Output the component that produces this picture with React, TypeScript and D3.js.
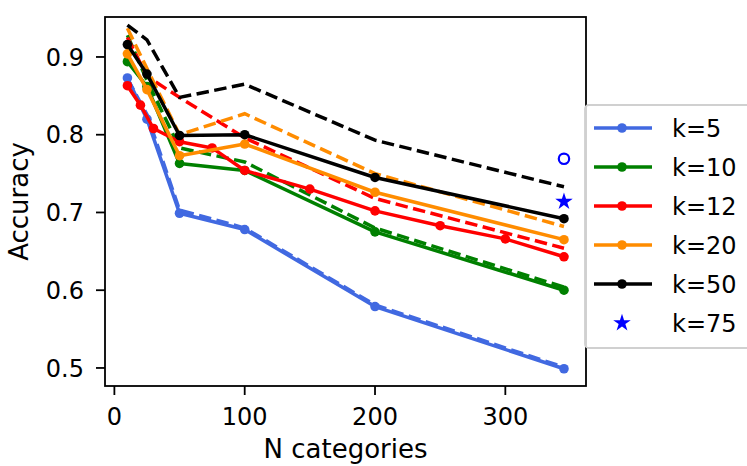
import { useEffect, useRef } from "react"
import * as d3 from "d3"

// x positions shared by most runs
const nCats = [10, 25, 50, 100, 200, 345]
const nCatsFine = [10, 20, 30, 50, 75, 100, 150, 200, 250, 300, 345]

const acc5 = [0.873, 0.82, 0.699, 0.678, 0.579, 0.499]
const acc10 = [0.894, 0.862, 0.763, 0.754, 0.675, 0.6]
const acc12 = [0.863, 0.838, 0.808, 0.791, 0.783, 0.754, 0.73, 0.702, 0.683, 0.666, 0.643]
const acc20 = [0.904, 0.858, 0.773, 0.788, 0.726, 0.665]
const acc50 = [0.916, 0.878, 0.799, 0.8, 0.745, 0.692]

// dashed reference curves
const ref5 = [0.872, 0.826, 0.703, 0.68, 0.581, 0.501]
const ref10 = [0.928, 0.87, 0.783, 0.765, 0.68, 0.604]
const ref12 = [0.925, 0.875, 0.848, 0.796, 0.718, 0.654]
const ref20 = [0.937, 0.885, 0.8, 0.827, 0.75, 0.682]
const ref50 = [0.941, 0.922, 0.848, 0.865, 0.793, 0.733]

const k75Star = 0.714
const k75Circle = 0.769
const k75X = 345

const legendLabels = ["k=5", "k=10", "k=12", "k=20", "k=50", "k=75"]
const colors = ["#4169e1", "#008000", "#ff0000", "#ff8c00", "#000000"]
const yTicks = [0.5, 0.6, 0.7, 0.8, 0.9]
const xTicks = [0, 100, 200, 300]

const App = () => {
    const ref = useRef<SVGSVGElement>(null)

    useEffect(() => {
        const svg = d3.select(ref.current)
        svg.selectAll("*").remove()
        const font = "DejaVu Sans"

        const left = 105, right = 586, top = 17, bottom = 386
        const x = d3.scaleLinear().domain([-7.2, 361.9]).range([left, right])
        const y = d3.scaleLinear().domain([0.4768, 0.9514]).range([bottom, top])

        const line = d3.line<[number, number]>()
            .x(d => x(d[0]))
            .y(d => y(d[1]))

        const solid = [
            { xs: nCats, ys: acc5, c: colors[0] },
            { xs: nCats, ys: acc10, c: colors[1] },
            { xs: nCatsFine, ys: acc12, c: colors[2] },
            { xs: nCats, ys: acc20, c: colors[3] },
            { xs: nCats, ys: acc50, c: colors[4] },
        ]
        const dashed = [ref5, ref10, ref12, ref20, ref50]

        const g = svg.append("g")

        solid.forEach((s, i) => {
            const pts = s.xs.map((v, j) => [v, s.ys[j]] as [number, number])
            g.append("path")
                .attr("d", line(pts))
                .attr("fill", "none")
                .attr("stroke", s.c)
                .attr("stroke-width", 3.5)
                .attr("stroke-linejoin", "round")
            g.selectAll(null)
                .data(pts)
                .enter()
                .append("circle")
                .attr("cx", d => x(d[0]))
                .attr("cy", d => y(d[1]))
                .attr("r", 4.8)
                .attr("fill", s.c)

            const dpts = nCats.map((v, j) => [v, dashed[i][j]] as [number, number])
            g.append("path")
                .attr("d", line(dpts))
                .attr("fill", "none")
                .attr("stroke", s.c)
                .attr("stroke-width", 3.5)
                .attr("stroke-dasharray", "12.5,5.5")
        })

        // k=75 single points
        const star = d3.symbol().type(d3.symbolStar).size(95)
        g.append("path")
            .attr("d", star())
            .attr("transform", `translate(${x(k75X)},${y(k75Star)})`)
            .attr("fill", "#0000ff")
        g.append("circle")
            .attr("cx", x(k75X))
            .attr("cy", y(k75Circle))
            .attr("r", 5.2)
            .attr("fill", "none")
            .attr("stroke", "#0000ff")
            .attr("stroke-width", 2.2)

        // axes frame
        svg.append("rect")
            .attr("x", left)
            .attr("y", top)
            .attr("width", right - left)
            .attr("height", bottom - top)
            .attr("fill", "none")
            .attr("stroke", "#000")
            .attr("stroke-width", 1.8)

        xTicks.forEach(t => {
            svg.append("line")
                .attr("x1", x(t)).attr("x2", x(t))
                .attr("y1", bottom).attr("y2", bottom + 9)
                .attr("stroke", "#000").attr("stroke-width", 1.8)
            svg.append("text")
                .attr("x", x(t)).attr("y", 425)
                .attr("text-anchor", "middle")
                .attr("font-family", font).attr("font-size", 24)
                .text(t)
        })
        yTicks.forEach(t => {
            svg.append("line")
                .attr("x1", left - 9).attr("x2", left)
                .attr("y1", y(t)).attr("y2", y(t))
                .attr("stroke", "#000").attr("stroke-width", 1.8)
            svg.append("text")
                .attr("x", 84).attr("y", y(t))
                .attr("dy", "0.36em")
                .attr("text-anchor", "end")
                .attr("font-family", font).attr("font-size", 24)
                .text(t.toFixed(1))
        })

        svg.append("text")
            .attr("x", (left + right) / 2).attr("y", 458)
            .attr("text-anchor", "middle")
            .attr("font-family", font).attr("font-size", 26)
            .text("N categories")
        svg.append("text")
            .attr("transform", `translate(28,${(top + bottom) / 2}) rotate(-90)`)
            .attr("text-anchor", "middle")
            .attr("font-family", font).attr("font-size", 26)
            .text("Accuracy")

        // legend
        const lg = svg.append("g")
        lg.append("rect")
            .attr("x", 585).attr("y", 105)
            .attr("width", 180).attr("height", 243)
            .attr("rx", 4)
            .attr("fill", "#fff").attr("fill-opacity", 0.8)
            .attr("stroke", "#d0d0d0").attr("stroke-width", 1.8)
        legendLabels.forEach((lab, i) => {
            const ly = 128 + i * 39
            if (i < 5) {
                lg.append("line")
                    .attr("x1", 594).attr("x2", 652)
                    .attr("y1", ly).attr("y2", ly)
                    .attr("stroke", colors[i]).attr("stroke-width", 3.5)
                lg.append("circle")
                    .attr("cx", 622).attr("cy", ly).attr("r", 4.8)
                    .attr("fill", colors[i])
            } else {
                lg.append("path")
                    .attr("d", star())
                    .attr("transform", `translate(622,${ly})`)
                    .attr("fill", "#0000ff")
            }
            lg.append("text")
                .attr("x", 672).attr("y", ly)
                .attr("dy", "0.36em")
                .attr("font-family", font).attr("font-size", 24)
                .text(lab)
        })
    }, [])

    return (
        <div style={{ position: "absolute", left: 0, top: 0 }}>
            <svg ref={ref} width={747} height={466}></svg>
        </div>
    )
}

export default App
